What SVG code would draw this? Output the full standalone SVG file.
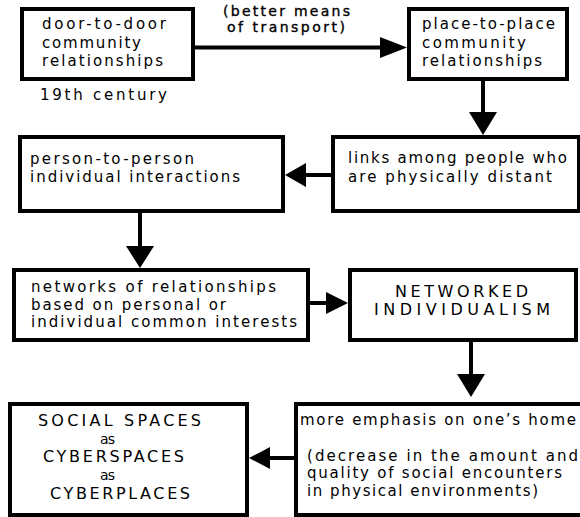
<svg xmlns="http://www.w3.org/2000/svg" width="580" height="517" viewBox="0 0 580 517">
<style>
.box{fill:#fff;stroke:#000;stroke-width:4}
.ln{stroke:#000;stroke-width:4;fill:none}
.hd{fill:#000}
text{font-family:"DejaVu Sans","Liberation Sans",sans-serif;font-size:15px;fill:#000}
.cap{font-size:16px}
.as{font-size:14px}
.lbl{font-size:14px;stroke:#000;stroke-width:0.35}
</style>
<rect width="580" height="517" fill="#fff"/>
<g id="connectors">
<line class="ln" x1="195" y1="47.5" x2="382" y2="47.5"/>
<polygon class="hd" points="380,37 407,47.5 380,58"/>
<line class="ln" x1="483" y1="81" x2="483" y2="114"/>
<polygon class="hd" points="469,112 497,112 483,135"/>
<line class="ln" x1="331" y1="175" x2="304" y2="175"/>
<polygon class="hd" points="306,163 306,187 285,175"/>
<line class="ln" x1="140" y1="213" x2="140" y2="248"/>
<polygon class="hd" points="126,246 154,246 140,268"/>
<line class="ln" x1="310" y1="303" x2="328" y2="303"/>
<polygon class="hd" points="326,292 326,314 348,303"/>
<line class="ln" x1="471" y1="342" x2="471" y2="376"/>
<polygon class="hd" points="457,374 485,374 471,397"/>
<line class="ln" x1="294" y1="458" x2="268" y2="458"/>
<polygon class="hd" points="270,447 270,469 249,458"/>
<text class="lbl" x="223" y="16" textLength="127" lengthAdjust="spacing">(better means</text>
<text class="lbl" x="227" y="32" textLength="118" lengthAdjust="spacing">of transport)</text>
</g>
<g id="n1">
<rect class="box" x="22" y="9" width="171" height="70"/>
<text x="42" y="29" textLength="124" lengthAdjust="spacing">door-to-door</text>
<text x="42" y="47.5" textLength="99" lengthAdjust="spacing">community</text>
<text x="42" y="66" textLength="121" lengthAdjust="spacing">relationships</text>
</g>
<g id="n1label">
<text x="40" y="100" textLength="127" lengthAdjust="spacing">19th century</text>
</g>
<g id="n2">
<rect class="box" x="409" y="9" width="158" height="70"/>
<text x="422" y="29" textLength="133" lengthAdjust="spacing">place-to-place</text>
<text x="422" y="47.5" textLength="104" lengthAdjust="spacing">community</text>
<text x="422" y="66" textLength="120" lengthAdjust="spacing">relationships</text>
</g>
<g id="n3">
<rect class="box" x="333" y="137" width="246" height="74"/>
<text x="348" y="163" textLength="219" lengthAdjust="spacing">links among people who</text>
<text x="348" y="182" textLength="204" lengthAdjust="spacing">are physically distant</text>
</g>
<g id="n4">
<rect class="box" x="20" y="137" width="263" height="74"/>
<text x="30" y="164" textLength="164" lengthAdjust="spacing">person-to-person</text>
<text x="30" y="182" textLength="210" lengthAdjust="spacing">individual interactions</text>
</g>
<g id="n5">
<rect class="box" x="14" y="270" width="294" height="70"/>
<text x="31" y="292" textLength="245" lengthAdjust="spacing">networks of relationships</text>
<text x="31" y="310" textLength="195" lengthAdjust="spacing">based on personal or</text>
<text x="31" y="327" textLength="266" lengthAdjust="spacing">individual common interests</text>
</g>
<g id="n6">
<rect class="box" x="350" y="270" width="226" height="70"/>
<text class="cap" x="395" y="297" textLength="133" lengthAdjust="spacing">NETWORKED</text>
<text class="cap" x="374" y="315" textLength="176" lengthAdjust="spacing">INDIVIDUALISM</text>
</g>
<g id="n7">
<rect class="box" x="296" y="404" width="300" height="111"/>
<text x="300" y="425" textLength="276" lengthAdjust="spacing">more emphasis on one’s home</text>
<text x="307" y="461" textLength="271" lengthAdjust="spacing">(decrease in the amount and</text>
<text x="307" y="478" textLength="255" lengthAdjust="spacing">quality of social encounters</text>
<text x="307" y="496" textLength="231" lengthAdjust="spacing">in physical environments)</text>
</g>
<g id="n8">
<rect class="box" x="10" y="404" width="237" height="111"/>
<text class="cap" x="38" y="426" textLength="163" lengthAdjust="spacing">SOCIAL SPACES</text>
<text class="as" x="100" y="444" textLength="15" lengthAdjust="spacing">as</text>
<text class="cap" x="43" y="462" textLength="141" lengthAdjust="spacing">CYBERSPACES</text>
<text class="as" x="100" y="480" textLength="15" lengthAdjust="spacing">as</text>
<text class="cap" x="50" y="499" textLength="140" lengthAdjust="spacing">CYBERPLACES</text>
</g>
</svg>
